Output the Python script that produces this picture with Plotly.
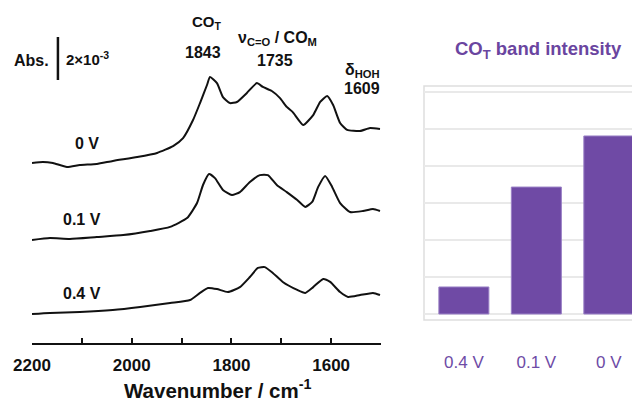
import plotly.graph_objects as go

# ---------------- data ----------------
# IR spectra (absorbance in units of 1e-3, stacked as plotted)
wn_0V = [2200, 2178, 2158, 2130, 2104, 2070, 2038, 1989, 1949, 1917, 1897, 1877, 1863, 1849, 1843,
         1829, 1817, 1803, 1789, 1769, 1749, 1737, 1719, 1703, 1689, 1677, 1656, 1636, 1622, 1608,
         1596, 1582, 1568, 1542, 1522, 1502]
abs_0V = [8.37, 8.42, 8.37, 8.19, 8.28, 8.33, 8.47, 8.65, 8.84, 9.16, 9.53, 10.37, 11.16, 12.00, 12.37,
          12.09, 11.44, 11.16, 11.21, 11.63, 12.09, 11.91, 11.72, 11.40, 10.98, 10.74, 10.14, 10.60, 11.21, 11.49,
          11.07, 10.23, 9.91, 9.86, 10.00, 9.95]

wn_01V = [2200, 2164, 2124, 2070, 2017, 1963, 1923, 1889, 1869, 1857, 1845, 1833, 1817, 1799, 1783,
          1763, 1743, 1727, 1709, 1689, 1668, 1652, 1638, 1626, 1612, 1598, 1582, 1562, 1536, 1516, 1502]
abs_01V = [4.79, 4.88, 4.84, 4.93, 5.02, 5.21, 5.40, 5.81, 6.51, 7.35, 7.86, 7.67, 7.12, 6.88, 7.02,
           7.49, 7.81, 7.81, 7.35, 7.02, 6.65, 6.33, 6.56, 7.26, 7.77, 7.26, 6.51, 6.09, 6.14, 6.23, 6.14]

wn_04V = [2200, 2164, 2104, 2038, 1983, 1923, 1883, 1863, 1847, 1829, 1807, 1783, 1763, 1747, 1733,
          1717, 1697, 1668, 1652, 1636, 1616, 1602, 1582, 1566, 1542, 1516, 1502]
abs_04V = [1.35, 1.40, 1.44, 1.53, 1.67, 1.86, 2.00, 2.33, 2.56, 2.51, 2.37, 2.60, 3.07, 3.49, 3.53,
           3.26, 2.84, 2.47, 2.33, 2.60, 2.98, 2.84, 2.37, 2.14, 2.23, 2.33, 2.23]

x_ticks = [2200, 2000, 1800, 1600]

# CO_T band intensity (arbitrary units)
bar_labels = ["0.4 V", "0.1 V", "0 V"]
bar_values = [0.73, 3.43, 4.81]

scale_bar_value = 2  # 2x10^-3 absorbance

# ---------------- helpers (screen pixel -> paper) ----------------
# the page places the figure at an 8px body margin, so the figure is 8px smaller
OFF = 8
W, H = 640 - OFF, 407 - OFF
def px(x):
    return (x - OFF) / W
def py(y):
    return 1 - (y - OFF) / H

PX_PER_UNIT = 21.5          # vertical pixels per 1e-3 absorbance
AXIS_Y = 343                # screen y of wavenumber axis

FONT = "Arial, Liberation Sans, sans-serif"
PURPLE = "#6a45a0"

fig = go.Figure()

for wn, ab in [(wn_0V, abs_0V), (wn_01V, abs_01V), (wn_04V, abs_04V)]:
    fig.add_trace(go.Scatter(x=wn, y=ab, mode="lines",
                             line=dict(color="#111111", width=2, shape="spline", smoothing=0.5),
                             xaxis="x", yaxis="y", showlegend=False, hoverinfo="skip"))

fig.add_trace(go.Bar(x=bar_labels, y=bar_values, width=0.69,
                     marker=dict(color="#6f4aa5", line=dict(color="#9a80c6", width=1)),
                     xaxis="x2", yaxis="y2", showlegend=False))

fig.update_layout(
    width=W, height=H,
    margin=dict(l=0, r=0, t=0, b=0, autoexpand=False),
    paper_bgcolor="white", plot_bgcolor="white",
    font=dict(family=FONT, color="#111111"),
    xaxis=dict(domain=[px(32), px(381)], range=[2200, 1500], tickvals=x_ticks,
               ticks="inside", ticklen=5, tickwidth=1.5, tickcolor="#111111",
               minor=dict(dtick=100, tick0=2200, ticks="inside", ticklen=5, tickwidth=1.5, tickcolor="#111111"),
               showline=True, linecolor="#111111", linewidth=1.5, showgrid=False, zeroline=False,
               tickfont=dict(family=FONT, size=17, color="#111111", weight="bold"),
               ticklabelstandoff=6, anchor="y", automargin=False),
    yaxis=dict(domain=[py(AXIS_Y), 1], range=[0, (AXIS_Y - OFF) / PX_PER_UNIT], visible=False, fixedrange=True),
    xaxis2=dict(domain=[px(424), 1], range=[-0.55, 2.43], anchor="y2",
                showline=False, showgrid=False, zeroline=False, ticks="",
                tickfont=dict(family=FONT, size=17, color="#6e4ba6"),
                ticklabelstandoff=30, automargin=False),
    yaxis2=dict(domain=[py(320), py(86)], range=[-0.162, 6.16], anchor="x2",
                dtick=1, tick0=0, showticklabels=False, ticks="",
                showgrid=True, gridcolor="#e9e9e9", gridwidth=1.5,
                zeroline=True, zerolinecolor="#e9e9e9", zerolinewidth=1.5, showline=False,
                automargin=False),
)

# border of the bar-chart plot area
fig.add_shape(type="rect", xref="paper", yref="paper", x0=px(424), x1=1.05, y0=py(320), y1=py(86),
              line=dict(color="#dedede", width=1.5), fillcolor="rgba(0,0,0,0)", layer="below")

# scale bar (2x10^-3)
fig.add_shape(type="line", xref="x", yref="y", x0=2148, x1=2148,
              y0=(AXIS_Y - 80) / PX_PER_UNIT, y1=(AXIS_Y - 80) / PX_PER_UNIT + scale_bar_value,
              line=dict(color="#111111", width=2.5))

def ann(text, x, y, size=16, color="#111111", bold=True, xanchor="center"):
    fig.add_annotation(text=text, x=px(x), y=py(y), xref="paper", yref="paper",
                       showarrow=False, xanchor=xanchor, yanchor="middle",
                       font=dict(family=FONT, size=size, color=color, weight="bold" if bold else "normal"))

ann("Abs.", 31, 61, 16)
ann("2×10<sup>-3</sup>", 64, 58, 15, xanchor="left")
ann("CO<sub>T</sub>", 207, 22, 15)
ann("1843", 203, 52, 16)
ann("ν<sub>C=O</sub> / CO<sub>M</sub>", 277, 38, 16)
ann("1735", 275, 60, 16)
ann("δ<sub>HOH</sub>", 362, 70, 16)
ann("1609", 362, 88, 16)
ann("0 V", 87, 143, 16)
ann("0.1 V", 82, 219, 16)
ann("0.4 V", 82, 293, 16)
ann("Wavenumber / cm<sup>-1</sup>", 217, 389, 20.5)
ann("CO<sub>T</sub> band intensity", 538, 50, 18.5, color=PURPLE)

fig.write_html("out.html")
